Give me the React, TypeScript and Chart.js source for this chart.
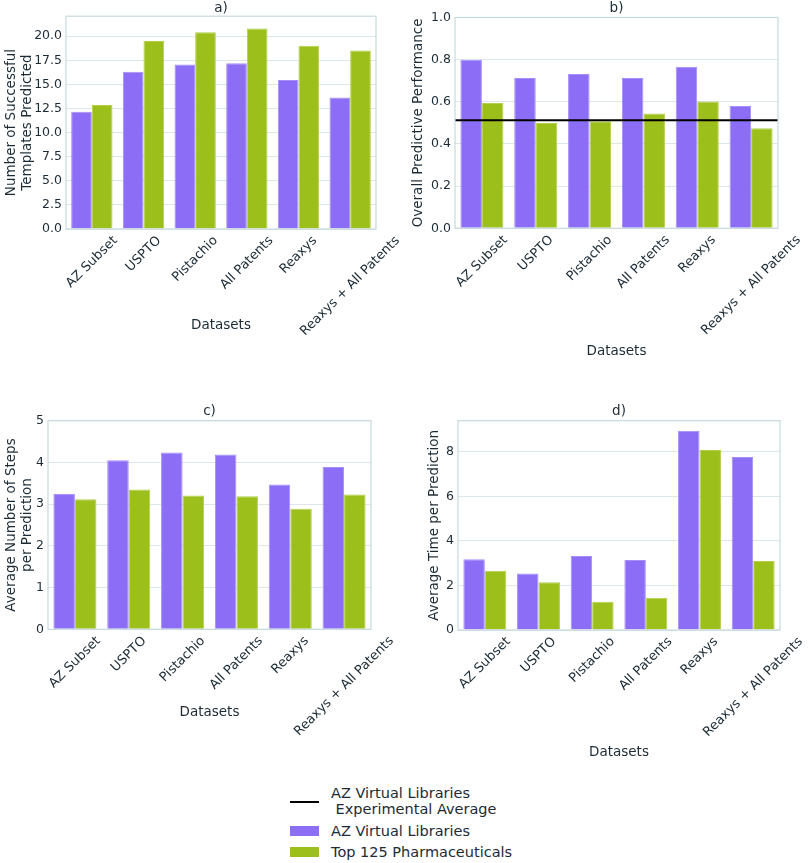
import React, { useEffect, useRef } from 'react';
import { Chart, registerables } from 'chart.js';
Chart.register(...registerables);

// ---------- data ----------
const categories = ['AZ Subset', 'USPTO', 'Pistachio', 'All Patents', 'Reaxys', 'Reaxys + All Patents'];
const seriesNames = ['AZ Virtual Libraries', 'Top 125 Pharmaceuticals'];
const lineName = ['AZ Virtual Libraries', ' Experimental Average'];

const templatesAZ = [12.15, 16.3, 17.07, 17.2, 15.45, 13.65];
const templatesTop = [12.85, 19.5, 20.4, 20.8, 19.0, 18.5];

const performanceAZ = [0.8, 0.713, 0.732, 0.713, 0.766, 0.58];
const performanceTop = [0.594, 0.5, 0.508, 0.544, 0.602, 0.475];
const experimentalAverage = 0.513;

const stepsAZ = [3.25, 4.05, 4.24, 4.19, 3.47, 3.89];
const stepsTop = [3.12, 3.35, 3.21, 3.19, 2.89, 3.23];

const timeAZ = [3.17, 2.54, 3.32, 3.14, 8.94, 7.76];
const timeTop = [2.66, 2.14, 1.27, 1.45, 8.07, 3.09];

// ---------- styles ----------
const PURPLE = '#8c6ef6';
const PURPLE_EDGE = '#a58ef8';
const GREEN = '#9cbf1c';
const GREEN_EDGE = '#b3d048';
const TEXT = '#1c2b36';
const GRID = '#dde6ea';
const SPINE = '#c6d9dd';
const FONT = "'DejaVu Sans', sans-serif";

Chart.defaults.font.family = FONT;
Chart.defaults.color = TEXT;

type Panel = {
  key: string;
  title: string;
  yTitle: string | string[];
  az: number[];
  top: number[];
  line?: number;
  yMax: number;
  step: number;
  decimals: number;
  left: number;
  topPx: number;
  width: number;
  height: number;
  yWidth: number;
  padRight: number;
  plotBottom: number;
  xTitleY: number;
  titlePadBottom: number;
  yTitlePad: number;
};

const panels: Panel[] = [
  {
    key: 'a', title: 'a)', yTitle: ['Number of Successful', 'Templates Predicted'],
    az: templatesAZ, top: templatesTop, yMax: 22.07, step: 2.5, decimals: 1,
    left: 0, topPx: 0, width: 404, height: 380, yWidth: 66, padRight: 28, plotBottom: 229, xTitleY: 325,
    titlePadBottom: 0, yTitlePad: 3,
  },
  {
    key: 'b', title: 'b)', yTitle: 'Overall Predictive Performance',
    az: performanceAZ, top: performanceTop, line: experimentalAverage, yMax: 1.0, step: 0.2, decimals: 1,
    left: 404, topPx: 0, width: 404, height: 380, yWidth: 51, padRight: 30, plotBottom: 228.3, xTitleY: 351,
    titlePadBottom: 1.3, yTitlePad: 6,
  },
  {
    key: 'c', title: 'c)', yTitle: ['Average Number of Steps', 'per Prediction'],
    az: stepsAZ, top: stepsTop, yMax: 5, step: 1, decimals: 0,
    left: 0, topPx: 403, width: 404, height: 372, yWidth: 48, padRight: 33, plotBottom: 226.3, xTitleY: 309,
    titlePadBottom: 1.5, yTitlePad: 3,
  },
  {
    key: 'd', title: 'd)', yTitle: 'Average Time per Prediction',
    az: timeAZ, top: timeTop, yMax: 9.39, step: 2, decimals: 0,
    left: 404, topPx: 403, width: 404, height: 372, yWidth: 54, padRight: 28, plotBottom: 227, xTitleY: 349,
    titlePadBottom: 1.5, yTitlePad: 22,
  },
];

const spinePlugin = {
  id: 'spines',
  afterDatasetsDraw(chart: any) {
    const { ctx, chartArea } = chart;
    ctx.save();
    ctx.strokeStyle = SPINE;
    ctx.lineWidth = 1.2;
    ctx.strokeRect(chartArea.left, chartArea.top, chartArea.right - chartArea.left, chartArea.bottom - chartArea.top);
    ctx.restore();
  },
};

const refLinePlugin = {
  id: 'refLine',
  afterDatasetsDraw(chart: any, _args: any, opts: any) {
    if (opts == null || opts.value == null) return;
    const { ctx, chartArea } = chart;
    const y = chart.scales.y.getPixelForValue(opts.value);
    ctx.save();
    ctx.strokeStyle = '#000000';
    ctx.lineWidth = 2;
    ctx.beginPath();
    ctx.moveTo(chartArea.left, y);
    ctx.lineTo(chartArea.right, y);
    ctx.stroke();
    ctx.restore();
  },
};

const xLabelPlugin = {
  id: 'centeredRotatedLabels',
  afterDraw(chart: any) {
    const { ctx, chartArea } = chart;
    const xs = chart.scales.x;
    const size = 13;
    ctx.save();
    ctx.font = `${size}px ${FONT}`;
    ctx.fillStyle = TEXT;
    ctx.textAlign = 'center';
    ctx.textBaseline = 'middle';
    const labels = xs.getLabels();
    labels.forEach((lab: string, i: number) => {
      const x = xs.getPixelForTick(i);
      const w = ctx.measureText(lab).width;
      const half = ((w + size) * Math.SQRT1_2) / 2;
      const cy = chartArea.bottom + 5 + half;
      ctx.save();
      ctx.translate(x, cy);
      ctx.rotate(-Math.PI / 4);
      ctx.fillText(lab, 0, 0);
      ctx.restore();
    });
    ctx.restore();
  },
};

function PanelChart({ p }: { p: Panel }) {
  const ref = useRef<HTMLCanvasElement | null>(null);
  useEffect(() => {
    if (!ref.current) return;
    const axisBottom = p.xTitleY + 3 + 8.1;
    const datasets: any[] = [
      {
        label: seriesNames[0], data: p.az, backgroundColor: PURPLE,
        borderColor: PURPLE_EDGE, borderWidth: 1,
        categoryPercentage: 0.8, barPercentage: 1.0,
      },
      {
        label: seriesNames[1], data: p.top, backgroundColor: GREEN,
        borderColor: GREEN_EDGE, borderWidth: 1,
        categoryPercentage: 0.8, barPercentage: 1.0,
      },
    ];
    const scales: any = {
      x: {
        type: 'category',
        grid: { display: false },
        border: { display: false },
        ticks: { display: false },
        title: {
          display: true, text: 'Datasets', color: TEXT,
          font: { size: 13.5, family: FONT }, padding: { top: 0, bottom: 3 },
        },
        afterFit: (s: any) => { s.height = axisBottom - p.plotBottom; },
      },
      y: {
        type: 'linear',
        min: 0,
        max: p.yMax,
        grid: { color: GRID, lineWidth: 1, drawTicks: false },
        border: { display: false },
        ticks: {
          stepSize: p.step, padding: 4, color: TEXT,
          font: { size: 12.5, family: FONT },
          callback: (v: any) => Number(v).toFixed(p.decimals),
        },
        afterBuildTicks: (s: any) => {
          s.ticks = s.ticks.filter((t: any) => {
            const r = t.value / p.step;
            return Math.abs(r - Math.round(r)) < 1e-6;
          });
        },
        title: {
          display: true, text: p.yTitle, color: TEXT,
          font: { size: 13.5, family: FONT }, padding: { top: p.yTitlePad, bottom: 0 },
        },
        afterFit: (s: any) => { s.width = p.yWidth; },
      },
    };
    const chart = new Chart(ref.current, {
      type: 'bar',
      data: { labels: categories, datasets },
      options: {
        responsive: false,
        animation: false,
        devicePixelRatio: 1,
        layout: { padding: { left: 0, right: p.padRight, top: 0, bottom: p.height - axisBottom } },
        plugins: {
          legend: { display: false },
          tooltip: { enabled: false },
          refLine: { value: p.line },
          title: {
            display: true, text: p.title, color: TEXT, fullSize: false,
            font: { size: 13.5, family: FONT, weight: 'normal' },
            padding: { top: 0, bottom: p.titlePadBottom },
          },
        },
        scales,
      } as any,
      plugins: [refLinePlugin, spinePlugin, xLabelPlugin],
    });
    return () => chart.destroy();
  }, [p]);
  return (
    <canvas
      ref={ref}
      width={p.width}
      height={p.height}
      style={{ position: 'absolute', left: p.left, top: p.topPx, width: p.width, height: p.height }}
    />
  );
}

const legendText: React.CSSProperties = {
  position: 'absolute',
  left: 331,
  fontFamily: FONT,
  fontSize: 14.5,
  color: TEXT,
  whiteSpace: 'pre',
  lineHeight: '16px',
};

export default function App() {
  return (
    <div style={{ position: 'absolute', left: 0, top: 0, width: 808, height: 863, background: '#ffffff', overflow: 'hidden' }}>
      {panels.map((p) => (
        <PanelChart key={p.key} p={p} />
      ))}
      <div style={{ position: 'absolute', left: 290, top: 801, width: 29, height: 2, background: '#000' }} />
      <div style={{ ...legendText, top: 785 }}>{lineName[0] + '\n' + lineName[1]}</div>
      <div style={{ position: 'absolute', left: 290, top: 826, width: 29, height: 10, background: PURPLE }} />
      <div style={{ ...legendText, top: 823 }}>{seriesNames[0]}</div>
      <div style={{ position: 'absolute', left: 290, top: 847, width: 29, height: 10, background: GREEN }} />
      <div style={{ ...legendText, top: 844 }}>{seriesNames[1]}</div>
    </div>
  );
}
